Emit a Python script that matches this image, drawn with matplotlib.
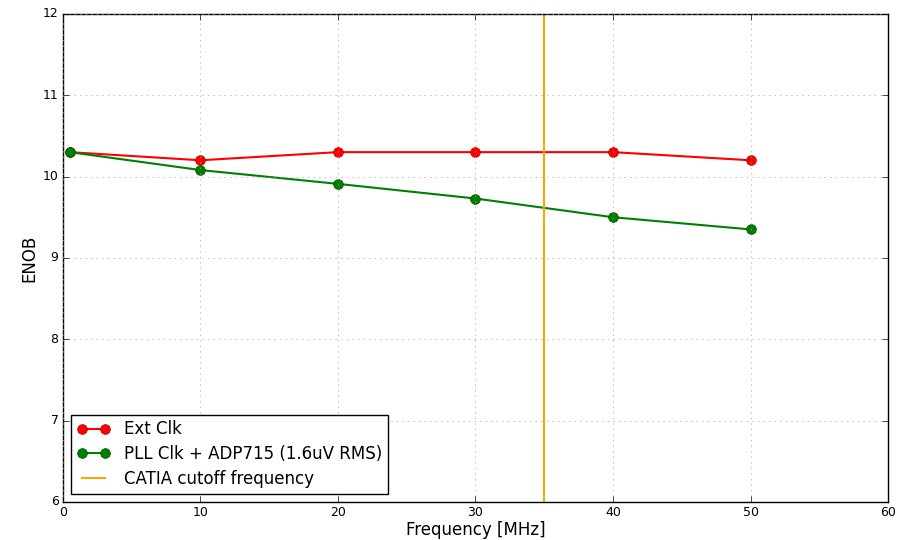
import numpy as np
import matplotlib
matplotlib.use("Agg")
import matplotlib.pyplot as plt

plt.style.use("classic")

freq = [0.5, 10, 20, 30, 40, 50]
enob_ext = [10.3, 10.2, 10.3, 10.3, 10.3, 10.2]
enob_pll = [10.3, 10.08, 9.91, 9.73, 9.5, 9.35]
cutoff = 35

fig = plt.figure(figsize=(9.09, 5.4), dpi=100)
ax = fig.add_axes([0.069, 0.0704, 0.908, 0.904])

ax.plot(freq, enob_ext, "-o", color="red", lw=1.5, markersize=7, markeredgecolor="#b00000", label="Ext Clk")
ax.plot(freq, enob_pll, "-o", color="green", lw=1.5, markersize=7, markeredgecolor="#004d00", label="PLL Clk + ADP715 (1.6uV RMS)")
ax.axvline(cutoff, color="orange", lw=1.5, label="CATIA cutoff frequency")

ax.set_xlim(0, 60)
ax.set_ylim(6, 12)
ax.set_xlabel("Frequency [MHz]", fontsize=12, labelpad=1)
ax.set_ylabel("ENOB", fontsize=12, labelpad=3)
ax.tick_params(labelsize=9, pad=3)
ax.grid(True, color="#a0a0a0", linestyle=":")
ax.legend(loc="lower left", fontsize=12, numpoints=2, handlelength=2.0,
          labelspacing=0.4, borderpad=0.35)

fig.savefig("out.png", dpi=100)
